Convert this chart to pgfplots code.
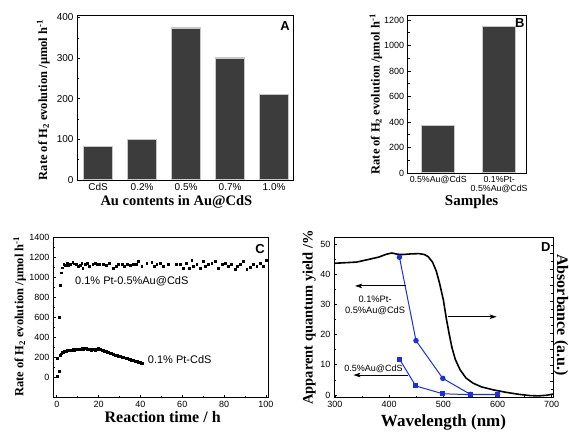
\documentclass[border=0pt]{standalone}
\usepackage{fontspec}
\setmainfont{Liberation Serif}
\newfontfamily\arial{Liberation Sans}
\usepackage{pgfplots}
\pgfplotsset{compat=1.18}
\usetikzlibrary{arrows.meta}
\definecolor{barfill}{RGB}{60,60,60}
\definecolor{baredge}{RGB}{200,200,200}
\definecolor{myblue}{RGB}{25,45,235}
\pgfplotsset{
 mystyle/.style={
  scale only axis,
  axis line style={line width=0.8pt},
  every tick/.style={black, line width=0.6pt},
  major tick length=3pt, minor tick length=1.8pt,
  tick pos=left, tick align=inside,
  tick label style={font=\arial\fontsize{9}{10}\selectfont},
  /pgf/number format/assume math mode=true,
  /pgf/number format/1000 sep={},
  label style={font=\bfseries},
 },
}
\tikzset{letter/.style={font=\arial\bfseries\fontsize{13}{14}\selectfont, anchor=north east, inner sep=0pt}}
\begin{document}
\begin{tikzpicture}[x=1pt,y=1pt]
\path[use as bounding box] (0,0) rectangle (569,431);
% ---------------- Panel A
\begin{axis}[mystyle, at={(77pt,251pt)}, anchor=south west, width=216pt, height=164.5pt,
  ymin=0, ymax=405, ytick={0,100,...,400}, minor y tick num=1,
  xmin=-0.48, xmax=4.43, xtick={0,1,2,3,4},
  xticklabels={CdS,0.2\%,0.5\%,0.7\%,1.0\%},
  x tick style={draw=none},
  tick label style={font=\arial\fontsize{10}{11}\selectfont},
  xlabel={Au contents in Au@CdS},
  ylabel={Rate of H\textsubscript{2} evolution /μmol h\textsuperscript{-1}},
  xlabel style={font=\bfseries\fontsize{14.5}{16}\selectfont, at={(axis description cs:0.46,-0.132)}, anchor=center},
  ylabel style={font=\bfseries\fontsize{12.5}{14}\selectfont, at={(axis description cs:-0.156,0.486)}, anchor=center},
  ]
\addplot[ybar, bar width=0.65, fill=barfill, draw=baredge, line width=1.3pt] coordinates {
(0,82) (1,100) (2,374) (3,300) (4,211)};
\node[letter] at (rel axis cs:0.986,0.963) {A};
\end{axis}
% ---------------- Panel B
\begin{axis}[mystyle, at={(407.7pt,258pt)}, anchor=south west, width=118.3pt, height=157.5pt,
  ymin=0, ymax=1235, ytick={0,200,...,1200}, minor y tick num=1,
  xmin=-0.5, xmax=1.44, xtick={0,1},
  xticklabels={0.5\%Au@CdS,{0.1\%Pt-\\0.5\%Au@CdS}},
  xticklabel style={align=center, font=\arial\fontsize{8.8}{9.3}\selectfont},
  x tick style={draw=none},
  xlabel={Samples},
  ylabel={Rate of H\textsubscript{2} evolution /μmol h\textsuperscript{-1}},
  xlabel style={font=\bfseries\fontsize{15}{16}\selectfont, at={(axis description cs:0.54,-0.185)}, anchor=center},
  ylabel style={font=\bfseries\fontsize{12.5}{14}\selectfont, at={(axis description cs:-0.268,0.50)}, anchor=center},
  ]
\addplot[ybar, bar width=0.54, fill=barfill, draw=baredge, line width=1.3pt] coordinates {
(0,372) (1,1150)};
\node[letter] at (rel axis cs:0.99,0.982) {B};
\end{axis}
% ---------------- Panel C
\begin{axis}[mystyle, at={(53pt,33.3pt)}, anchor=south west, width=215pt, height=160pt,
  ymin=-200, ymax=1400, ytick={0,200,...,1400}, minor y tick num=1,
  xmin=-1.8, xmax=101, xtick={0,20,...,100}, minor x tick num=1,
  xlabel={Reaction time / h},
  ylabel={Rate of H\textsubscript{2} evolution /μmol h\textsuperscript{-1}},
  xlabel style={font=\bfseries\fontsize{16}{17}\selectfont, at={(axis description cs:0.51,-0.119)}, anchor=center},
  ylabel style={font=\bfseries\fontsize{12.5}{14}\selectfont, at={(axis description cs:-0.155,0.506)}, anchor=center},
  ]
\addplot[only marks, mark=square*, mark size=0.95pt, black] coordinates {
(0.3,195) (1.2,607) (1.7,925) (2.3,1050) (2.8,1100) (3.3,1132) (4.0,1125) (4.8,1149) (5.5,1120) (6.4,1132) (7.6,1159) (8.4,1140)
(9.2,1132) (10.3,1116) (11.1,1128) (11.9,1149) (12.4,1099) (13.5,1132) (14.6,1149) (15.6,1116) (17.2,1139) (18.3,1149)
(19.1,1132) (20.4,1139) (22.3,1132) (23.6,1126) (25.2,1149) (27.1,1099) (28.4,1116) (29.5,1132) (31.1,1132) (32.2,1116)
(33.5,1132) (35.0,1126) (36.6,1132) (37.9,1139) (39.0,1166) (40.6,1116) (43.0,1149) (45.4,1156) (46.5,1116) (47.8,1132)
(49.4,1149) (51.0,1116) (53.3,1132) (57.3,1139) (58.9,1132) (60.5,1099) (62.1,1149) (63.3,1099) (64.5,1173) (65.3,1116)
(66.9,1132) (68.5,1099) (70.1,1166) (70.9,1116) (72.5,1132) (74.1,1149) (75.7,1166) (77.3,1099) (78.9,1132) (80.5,1149)
(82.1,1116) (83.6,1132) (85.2,1082) (86.4,1116) (87.6,1139) (89.2,1166) (90.8,1082) (92.7,1106) (94.0,1132) (95.6,1116)
(97.2,1149) (98.8,1116) (100,1173)};
\addplot[only marks, mark=square*, mark size=0.95pt, black] coordinates {
(0.3,17) (1.2,67) (1.6,228) (2.0,240) (2.5,252) (3.0,258) (3.5,262) (4.0,262) (4.5,268) (5.0,272) (5.5,270) (6.0,276)
(6.5,278) (7.0,275) (7.5,280) (8.0,282) (8.5,278) (9.0,283) (9.5,285) (10.0,282) (10.5,288) (11.0,286) (11.5,290)
(12.0,292) (12.5,289) (13.0,295) (13.5,290) (14.0,293) (14.5,288) (15.0,280) (15.5,283) (16.0,286) (16.5,278)
(17.0,283) (17.5,285) (18.0,280) (18.5,275) (19.0,282) (19.5,287) (20.0,292) (20.5,285) (21.0,283) (21.5,277)
(22.0,272) (22.5,268) (23.0,270) (23.5,262) (24.0,258) (24.5,255) (25.0,250) (25.5,246) (26.0,242) (26.5,240)
(27.0,233) (27.5,230) (28.0,228) (28.5,225) (29.0,222) (29.5,218) (30.0,216) (30.5,212) (31.0,210) (31.5,206)
(32.0,203) (32.5,200) (33.0,196) (33.5,192) (34.0,190) (34.5,186) (35.0,182) (35.5,179) (36.0,176) (36.5,172)
(37.0,170) (37.5,167) (38.0,164) (38.5,161) (39.0,158) (39.5,155) (40.0,152) (40.5,149) (41.0,146)};
\node[anchor=west, inner sep=0pt, font=\arial\fontsize{11}{12}\selectfont] at (axis cs:8.7,965) {0.1\% Pt-0.5\%Au@CdS};
\node[anchor=west, inner sep=0pt, font=\arial\fontsize{11}{12}\selectfont] at (axis cs:43.5,178) {0.1\% Pt-CdS};
\node[letter] at (rel axis cs:0.986,0.959) {C};
\end{axis}
% ---------------- Panel D
\begin{axis}[mystyle, at={(334pt,33.3pt)}, anchor=south west, width=219pt, height=160.7pt,
  ymin=-0.9, ymax=52.3, ytick={0,10,...,50}, minor y tick num=1,
  xmin=298.2, xmax=702.4, xtick={300,400,...,700}, minor x tick num=1,
  xlabel={Wavelength (nm)},
  ylabel={Apparent quantum yield /\%},
  xlabel style={font=\bfseries\fontsize{17}{18}\selectfont, at={(axis description cs:0.50,-0.157)}, anchor=center},
  ylabel style={font=\bfseries\fontsize{14.5}{16}\selectfont, at={(axis description cs:-0.114,0.50)}, anchor=center},
  ]
\addplot[black, line width=1.6pt] coordinates {
(298.2,43.6) (320,43.8) (340,44.0) (360,44.8) (380,45.6) (395,46.6) (405,47.0) (415,46.6) (425,46.5) (440,46.7)
(455,46.8) (465,46.5) (472,45.8) (480,44.0) (487,41.0) (493,37.0) (500,31.5) (506,24.8) (511,20) (516,15.6)
(522,11.8) (531,8.3) (542,5.6) (555,3.9) (570,2.7) (592,1.7) (615,0.9) (640,0.2) (660,-0.2) (675,-0.3) (690,-0.1) (702.4,0.3)};
\addplot[myblue, line width=1pt, mark=*, mark size=2.2pt] coordinates {
(419,45.6) (449.5,18.0) (499,5.5) (550,0.2) (600,0.2)};
\addplot[myblue, line width=1pt, mark=square*, mark size=2pt] coordinates {
(419,11.9) (449,3.0) (499,0.4) (550,0.1) (600,0.1)};
\draw[line width=0.9pt, -{Stealth[length=7pt,width=4.5pt,inset=1.5pt]}] (axis cs:431,36.1) -- (axis cs:337,36.1);
\draw[line width=0.9pt, -{Stealth[length=7pt,width=4.5pt,inset=1.5pt]}] (axis cs:435,6.6) -- (axis cs:334,6.6);
\draw[line width=0.9pt, -{Stealth[length=7pt,width=4.5pt,inset=1.5pt]}] (axis cs:509,25.9) -- (axis cs:598.5,25.9);
\node[align=center, inner sep=0pt, font=\arial\fontsize{9.3}{11}\selectfont] at (axis cs:374,29.8) {0.1\%Pt-\\0.5\%Au@CdS};
\node[inner sep=0pt, font=\arial\fontsize{9}{10}\selectfont] at (axis cs:371,8.8) {0.5\%Au@CdS};
\node[letter] at (rel axis cs:0.989,0.965) {D};
\end{axis}
\begin{axis}[scale only axis, at={(334pt,33.3pt)}, anchor=south west, width=219pt, height=160.7pt,
  xmin=298.2, xmax=702.4, ymin=0, ymax=1,
  axis x line=none, axis y line*=right, tick align=inside,
  axis line style={line width=0.8pt},
  every tick/.style={black, line width=0.6pt},
  major tick length=3pt, minor tick length=1.8pt,
  ytick={0,0.1,0.2,0.3,0.4,0.5,0.6,0.7,0.8,0.9,1}, minor y tick num=1, yticklabels={},
  ylabel={Absorbance (a.u.)},
  ylabel style={font=\bfseries\fontsize{16}{17}\selectfont, at={(axis description cs:1.036,0.515)}, anchor=center, rotate=180},
  ]
\addplot[draw=none] coordinates {(400,0.5)};
\end{axis}
\end{tikzpicture}
\end{document}
